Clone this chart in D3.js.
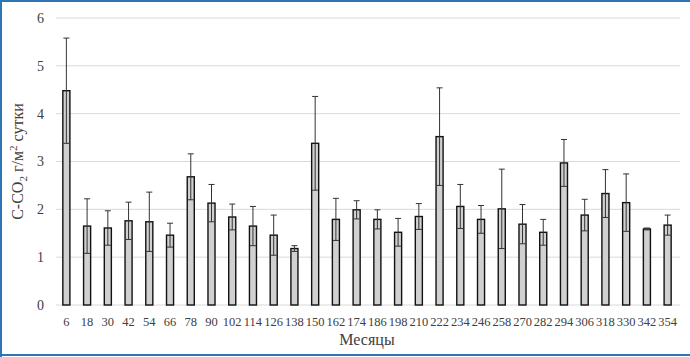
<!DOCTYPE html>
<html>
<head>
<meta charset="utf-8">
<script src="https://cdn.jsdelivr.net/npm/d3@7"></script>
<style>
  html, body { margin: 0; padding: 0; background: #fff; }
  svg { display: block; }
</style>
</head>
<body>
<script>
// данные: месяцы, средние значения и ошибки
var months = [6, 18, 30, 42, 54, 66, 78, 90, 102, 114, 126, 138, 150, 162, 174,
              186, 198, 210, 222, 234, 246, 258, 270, 282, 294, 306, 318, 330, 342, 354];
var means = [4.48, 1.65, 1.61, 1.76, 1.74, 1.46, 2.68, 2.13, 1.84, 1.65, 1.46, 1.18, 3.38, 1.79, 1.99,
             1.79, 1.52, 1.85, 3.52, 2.06, 1.79, 2.01, 1.69, 1.52, 2.97, 1.88, 2.33, 2.14, 1.59, 1.67];
var errors = [1.1, 0.57, 0.36, 0.39, 0.62, 0.25, 0.48, 0.39, 0.27, 0.41, 0.42, 0.06, 0.98, 0.44, 0.19,
              0.2, 0.29, 0.27, 1.02, 0.46, 0.29, 0.83, 0.41, 0.27, 0.49, 0.33, 0.5, 0.6, 0.02, 0.21];
var yTicks = [0, 1, 2, 3, 4, 5, 6];

var W = 690, H = 357;
var plotL = 56, plotR = 678, plotT = 18, plotB = 305;

var svg = d3.select("body").append("svg")
    .attr("width", W)
    .attr("height", H);

var x = d3.scaleBand()
    .domain(months)
    .range([plotL, plotR])
    .paddingInner(0.66)
    .paddingOuter(0.33);

var y = d3.scaleLinear().domain([0, 6]).range([plotB, plotT]);

// сетка
svg.append("g").selectAll("line")
    .data(yTicks)
  .enter().append("line")
    .attr("x1", plotL).attr("x2", plotR + 2)
    .attr("y1", function(d) { return y(d); })
    .attr("y2", function(d) { return y(d); })
    .attr("stroke", "#d9d9d9")
    .attr("stroke-width", 1);

// ось Y
var yAxis = svg.append("g")
    .attr("transform", "translate(" + (plotL - 12) + ",0)")
    .call(d3.axisLeft(y).tickValues(yTicks).tickFormat(d3.format("d")).tickSize(0).tickPadding(0));
yAxis.select(".domain").remove();
yAxis.selectAll("text")
    .style("font-family", "Liberation Serif")
    .style("font-size", "14px")
    .attr("fill", "#404040");

// ось X
var xAxis = svg.append("g")
    .attr("transform", "translate(0," + plotB + ")")
    .call(d3.axisBottom(x).tickSize(0).tickPadding(12));
xAxis.select(".domain").remove();
xAxis.selectAll("text")
    .style("font-family", "Liberation Serif")
    .style("font-size", "12.5px")
    .attr("fill", "#404040");

// столбцы
svg.append("g").selectAll("rect")
    .data(months)
  .enter().append("rect")
    .attr("x", function(d) { return x(d); })
    .attr("y", function(d, i) { return y(means[i]); })
    .attr("width", x.bandwidth())
    .attr("height", function(d, i) { return plotB - y(means[i]); })
    .attr("fill", "#d0d0d0")
    .attr("stroke", "#111")
    .attr("stroke-width", 1.4);

// планки погрешностей
var eb = svg.append("g").attr("stroke", "#333").attr("stroke-width", 1);
months.forEach(function(m, i) {
  var cx = x(m) + x.bandwidth() / 2;
  var hi = y(means[i] + errors[i]), lo = y(means[i] - errors[i]);
  eb.append("line").attr("x1", cx).attr("x2", cx).attr("y1", hi).attr("y2", lo);
  eb.append("line").attr("x1", cx - 3).attr("x2", cx + 3).attr("y1", hi).attr("y2", hi);
  eb.append("line").attr("x1", cx - 3).attr("x2", cx + 3).attr("y1", lo).attr("y2", lo);
});

// подписи осей
var yt = svg.append("text")
    .attr("transform", "translate(23," + ((plotT + plotB) / 2) + ") rotate(-90)")
    .attr("text-anchor", "middle")
    .style("font-family", "Liberation Serif")
    .style("font-size", "16px")
    .attr("fill", "#404040");
yt.append("tspan").text("C-CO");
yt.append("tspan").attr("dy", 4).style("font-size", "11px").text("2");
yt.append("tspan").attr("dy", -4).text(" г/м");
yt.append("tspan").attr("dy", -6).style("font-size", "11px").text("2");
yt.append("tspan").attr("dy", 6).text(" сутки");

svg.append("text")
    .attr("x", (plotL + plotR) / 2)
    .attr("y", 345)
    .attr("text-anchor", "middle")
    .style("font-family", "Liberation Serif")
    .style("font-size", "16px")
    .attr("fill", "#404040")
    .text("Месяцы");

// рамка
var fr = svg.append("g").attr("stroke", "#2e75b6").attr("stroke-width", 2).attr("fill", "none");
fr.append("line").attr("x1", 0).attr("x2", W).attr("y1", 1).attr("y2", 1);
fr.append("line").attr("x1", 1).attr("x2", 1).attr("y1", 0).attr("y2", H);
fr.append("line").attr("x1", 0).attr("x2", W).attr("y1", 355).attr("y2", 355);
</script>
</body>
</html>
